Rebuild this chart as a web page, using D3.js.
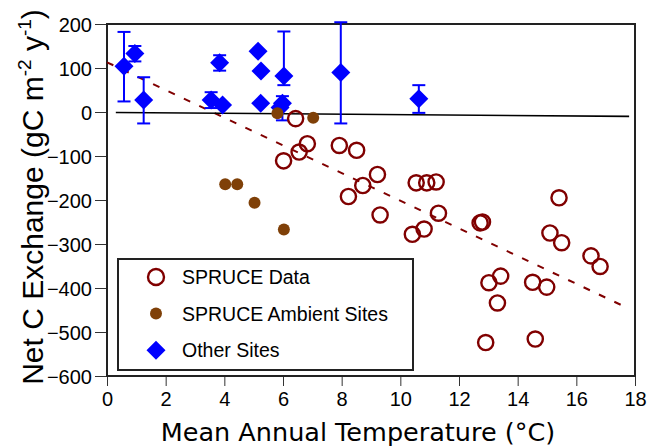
<!DOCTYPE html>
<html>
<head>
<meta charset="utf-8">
<script src="https://cdn.jsdelivr.net/npm/d3@7"></script>
<style>
  body { margin: 0; background: #fff; }
  svg { display: block; }
</style>
</head>
<body>
<svg id="chart" width="648" height="447"></svg>
<script>
// SPRUCE plot data (temperature °C, net C exchange gC m-2 y-1)
var spruceX = [6.43, 6.83, 6.55, 6.02, 7.92, 8.51, 9.22, 8.72, 8.23, 10.54, 10.9, 11.22, 9.31, 11.3, 10.81,
  10.41, 12.72, 12.8, 15.41, 15.1, 15.5, 16.5, 16.81, 13.42, 13.02, 13.31, 14.51, 14.99, 12.91, 14.6];
var spruceY = [-15, -72, -91, -111, -76, -87, -142, -167, -192, -161, -161, -159, -234, -230, -266,
  -278, -252, -250, -195, -275, -297, -327, -351, -373, -388, -434, -387, -398, -524, -516];

// ambient sites
var ambientX = [5.81, 7.03, 4.03, 4.44, 5.03, 6.03];
var ambientY = [-3, -13, -164, -164, -206, -267];

// other sites with error bars (null = no bar)
var otherX = [0.58, 0.95, 1.25, 3.55, 3.94, 3.84, 5.15, 5.25, 5.24, 6.03, 5.98, 5.9, 7.97, 10.63];
var otherY = [104, 133, 27, 27, 16, 112, 138, 93, 20, 82, 20, 10, 90, 30];
var otherLo = [24, 115, -26, 9, null, 94, null, null, null, 61, -19, null, -26, -2];
var otherHi = [182, 150, 79, 45, null, 129, null, null, null, 183, 36, null, 204, 61];

// fitted lines
var trendX = [0, 17.7];
var trendY = [113, -444];
var zeroX = [0.3, 17.8];
var zeroY = [-1, -10];

var xTicks = d3.range(0, 19, 2);
var yTicks = d3.range(-600, 201, 100);
var legendLabels = ["SPRUCE Data", "SPRUCE Ambient Sites", "Other Sites"];

var svg = d3.select("svg#chart");
var x = d3.scaleLinear().domain([0, 18]).range([107, 635]);
var y = d3.scaleLinear().domain([-600, 200]).range([376, 24]);

var red = "#800000", brown = "#7f4008", blue = "#0000ff";
var font = "'Liberation Sans', Arial, Helvetica, sans-serif";

// axes
var gx = svg.append("g").attr("transform", "translate(0,376)");
gx.call(d3.axisBottom(x).tickValues(d3.range(0, 18.01, 0.5)).tickSize(5).tickFormat(""));
gx.call(d3.axisBottom(x).tickValues(xTicks).tickSize(10).tickPadding(6).tickFormat(d3.format("d")));
var gy = svg.append("g").attr("transform", "translate(107,0)");
gy.call(d3.axisLeft(y).tickValues(d3.range(-600, 201, 20)).tickSize(7).tickFormat(""));
gy.call(d3.axisLeft(y).tickValues(yTicks).tickSize(12).tickPadding(3).tickFormat(d3.format("d")));
svg.selectAll(".domain").remove();
svg.selectAll(".tick line").attr("stroke", "#333").attr("stroke-width", 1);
svg.selectAll(".tick text").attr("font-family", font).attr("font-size", 20).attr("fill", "#000");
gy.selectAll(".tick text").attr("dy", "0.35em");

// frame
svg.append("rect")
  .attr("x", 107).attr("y", 24).attr("width", 528).attr("height", 352)
  .attr("fill", "none").attr("stroke", "#222").attr("stroke-width", 2);

var line = d3.line().x(function (d) { return x(d[0]); }).y(function (d) { return y(d[1]); });

svg.append("path")
  .attr("d", line(d3.zip(trendX, trendY)))
  .attr("fill", "none").attr("stroke", red).attr("stroke-width", 2)
  .attr("stroke-dasharray", "7,10");

svg.append("path")
  .attr("d", line(d3.zip(zeroX, zeroY)))
  .attr("fill", "none").attr("stroke", "#000").attr("stroke-width", 1.6);

// other sites
var others = otherX.map(function (d, i) {
  return { x: d, y: otherY[i], lo: otherLo[i], hi: otherHi[i] };
});
var eb = svg.append("g").attr("stroke", blue).attr("stroke-width", 2)
  .selectAll("g").data(others.filter(function (d) { return d.lo != null; })).join("g");
eb.append("line")
  .attr("x1", function (d) { return x(d.x); }).attr("x2", function (d) { return x(d.x); })
  .attr("y1", function (d) { return y(d.lo); }).attr("y2", function (d) { return y(d.hi); });
[ "lo", "hi" ].forEach(function (k) {
  eb.append("line")
    .attr("x1", function (d) { return x(d.x) - 6.5; }).attr("x2", function (d) { return x(d.x) + 6.5; })
    .attr("y1", function (d) { return y(d[k]); }).attr("y2", function (d) { return y(d[k]); });
});

var diamond = "M0,-9.5L9.5,0L0,9.5L-9.5,0Z";
svg.append("g").selectAll("path").data(others).join("path")
  .attr("d", diamond).attr("fill", blue)
  .attr("transform", function (d) { return "translate(" + x(d.x) + "," + y(d.y) + ")"; });

// ambient
svg.append("g").selectAll("circle").data(d3.zip(ambientX, ambientY)).join("circle")
  .attr("cx", function (d) { return x(d[0]); })
  .attr("cy", function (d) { return y(d[1]); })
  .attr("r", 6).attr("fill", brown);

// spruce data
svg.append("g").selectAll("circle").data(d3.zip(spruceX, spruceY)).join("circle")
  .attr("cx", function (d) { return x(d[0]); })
  .attr("cy", function (d) { return y(d[1]); })
  .attr("r", 7.6).attr("fill", "none").attr("stroke", red).attr("stroke-width", 2.4);

// legend
var lg = svg.append("g");
lg.append("rect").attr("x", 118).attr("y", 259).attr("width", 295).attr("height", 111)
  .attr("fill", "#fff").attr("stroke", "#222").attr("stroke-width", 2);
var rows = lg.selectAll("g.legendEntry").data(legendLabels).join("g").attr("class", "legendEntry")
  .attr("transform", function (d, i) { return "translate(156," + (277 + i * 36.6) + ")"; });
rows.filter(function (d, i) { return i == 0; }).append("circle")
  .attr("r", 8).attr("fill", "none").attr("stroke", red).attr("stroke-width", 2.4);
rows.filter(function (d, i) { return i == 1; }).append("circle")
  .attr("r", 6).attr("fill", brown);
rows.filter(function (d, i) { return i == 2; }).append("path")
  .attr("d", diamond).attr("fill", blue);
rows.append("text").attr("x", 26).attr("dy", "0.36em")
  .attr("font-family", font).attr("font-size", 19.5).text(function (d) { return d; });

// titles
svg.append("text")
  .attr("x", 358).attr("y", 441).attr("text-anchor", "middle")
  .attr("font-family", "'DejaVu Sans', sans-serif").attr("font-size", 25.5)
  .text("Mean Annual Temperature (°C)");

var yt = svg.append("text")
  .attr("transform", "translate(43,197) rotate(-90)")
  .attr("text-anchor", "middle")
  .attr("font-family", font).attr("font-size", 30);
yt.append("tspan").text("Net C Exchange (gC m");
yt.append("tspan").attr("font-size", 19).attr("dy", -12).text("-2");
yt.append("tspan").attr("dy", 12).text(" y");
yt.append("tspan").attr("font-size", 19).attr("dy", -12).text("-1");
yt.append("tspan").attr("dy", 12).text(")");
</script>
</body>
</html>
